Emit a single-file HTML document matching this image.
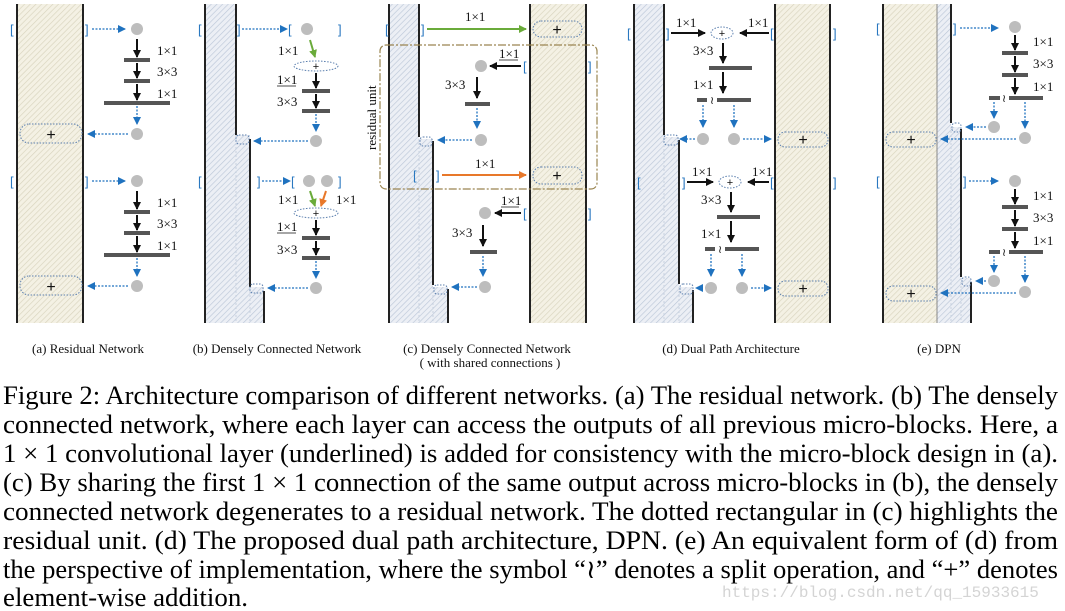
<!DOCTYPE html>
<html><head><meta charset="utf-8"><style>
html,body{margin:0;padding:0;background:#fff;}
svg{display:block;}
.lab{font-family:"Liberation Serif",serif;font-size:13px;fill:#111;}
.cap{font-family:"Liberation Serif",serif;font-size:13px;fill:#111;}
.txt{font-family:"Liberation Serif",serif;font-size:26px;fill:#000;}
.br{font-family:"Liberation Sans",sans-serif;font-size:13px;fill:#2a78c0;}
</style></head><body>
<svg width="1065" height="611" viewBox="0 0 1065 611" xmlns="http://www.w3.org/2000/svg">
<defs>
<pattern id="hb" width="4" height="4" patternUnits="userSpaceOnUse" patternTransform="rotate(45)"><rect width="4" height="4" fill="#f4f1e4"/><line x1="0" y1="0" x2="0" y2="4" stroke="#d8d3bd" stroke-width="1.3"/></pattern>
<pattern id="hl" width="4" height="4" patternUnits="userSpaceOnUse" patternTransform="rotate(45)"><rect width="4" height="4" fill="#eceff5"/><line x1="0" y1="0" x2="0" y2="4" stroke="#bcc7d8" stroke-width="1.3"/></pattern>
<marker id="mk" markerWidth="8" markerHeight="8" refX="7" refY="4" orient="auto" markerUnits="userSpaceOnUse"><path d="M0,0 L8,4 L0,8 Z" fill="#111"/></marker>
<marker id="mb" markerWidth="8" markerHeight="8" refX="7" refY="4" orient="auto" markerUnits="userSpaceOnUse"><path d="M0,0 L8,4 L0,8 Z" fill="#1f72bf"/></marker>
<marker id="mg" markerWidth="8" markerHeight="8" refX="7" refY="4" orient="auto" markerUnits="userSpaceOnUse"><path d="M0,0 L8,4 L0,8 Z" fill="#6aab3a"/></marker>
<marker id="mo" markerWidth="8" markerHeight="8" refX="7" refY="4" orient="auto" markerUnits="userSpaceOnUse"><path d="M0,0 L8,4 L0,8 Z" fill="#e8782a"/></marker>
<style>
.k{stroke:#111;stroke-width:2;marker-end:url(#mk);fill:none}
.b{stroke:#1f72bf;stroke-width:1.3;stroke-dasharray:2 1.5;marker-end:url(#mb);fill:none}
.bar{stroke:#555;stroke-width:4}
.c{fill:#bdbdbd}
.pl{fill:none;stroke:#5b7fae;stroke-width:1;stroke-dasharray:1.5 1.5}
.ln{stroke:#222;stroke-width:2;fill:none}
.pt{font-family:"Liberation Sans",sans-serif;font-size:16px;fill:#111;text-anchor:middle}
.ps{font-family:"Liberation Sans",sans-serif;font-size:11px;fill:#111;text-anchor:middle}
</style>
</defs>

<!-- (a) -->
<rect x="17" y="4" width="66" height="319" fill="url(#hb)"/>
<line class="ln" x1="17" y1="4" x2="17" y2="323"/><line class="ln" x1="83" y1="4" x2="83" y2="323"/>
<g id="ra">
<text class="br" x="10" y="34">[</text><text class="br" x="85" y="34">]</text>
<line class="b" x1="92" y1="29" x2="125" y2="29"/>
<circle class="c" cx="137" cy="29" r="6"/>
<line class="k" x1="137" y1="39" x2="137" y2="57"/><line class="bar" x1="124" y1="60" x2="150" y2="60"/><text class="lab" x="157" y="55">1×1</text>
<line class="k" x1="137" y1="63" x2="137" y2="78"/><line class="bar" x1="124" y1="81" x2="150" y2="81"/><text class="lab" x="157" y="76">3×3</text>
<line class="k" x1="137" y1="84" x2="137" y2="100"/><line class="bar" x1="104" y1="103" x2="170" y2="103"/><text class="lab" x="157" y="98">1×1</text>
<line class="b" x1="137" y1="106" x2="137" y2="124"/>
<circle class="c" cx="137" cy="134" r="6"/>
<line class="b" x1="128" y1="134" x2="88" y2="134"/>
<rect class="pl" x="20" y="124" width="62" height="19" rx="9"/><text class="pt" x="51" y="140">+</text>
</g>
<use href="#ra" transform="translate(0,152)"/>

<!-- (b) -->
<path d="M205,4 H236 V135 H250 V287 H264 V323 H205 Z" fill="url(#hl)"/>
<line x1="236" y1="135" x2="236" y2="323" stroke="#c8d2e0" stroke-dasharray="2 2"/>
<line x1="250" y1="287" x2="250" y2="323" stroke="#c8d2e0" stroke-dasharray="2 2"/>
<line class="ln" x1="205" y1="4" x2="205" y2="323"/>
<path class="ln" d="M236,4 V135 M250,139 V287 M264,291 V323"/>
<rect class="pl" x="236" y="135" width="13" height="9" rx="3"/>
<rect class="pl" x="250" y="284" width="13" height="9" rx="3"/>
<text class="br" x="198" y="34">[</text><text class="br" x="237" y="34">]</text>
<line class="b" x1="242" y1="29" x2="287" y2="29"/>
<text class="br" x="288" y="34">[</text><text class="br" x="338" y="34">]</text>
<circle class="c" cx="307" cy="29" r="6"/>
<line x1="310" y1="40" x2="315" y2="57" stroke="#6aab3a" stroke-width="2" marker-end="url(#mg)"/>
<text class="lab" x="278" y="55">1×1</text>
<ellipse class="pl" cx="316" cy="66" rx="22" ry="5"/><text class="ps" x="316" y="70">+</text>
<text class="lab" x="277" y="84">1×1</text><line x1="277" y1="86" x2="296" y2="86" stroke="#111" stroke-width="0.8"/>
<line class="k" x1="316" y1="73" x2="316" y2="88"/><line class="bar" x1="302" y1="91" x2="330" y2="91"/>
<text class="lab" x="277" y="106">3×3</text>
<line class="k" x1="316" y1="94" x2="316" y2="108"/><line class="bar" x1="302" y1="111" x2="330" y2="111"/>
<line class="b" x1="316" y1="114" x2="316" y2="131"/>
<circle class="c" cx="316" cy="141" r="6"/>
<line class="b" x1="308" y1="141" x2="254" y2="141"/>
<text class="br" x="198" y="186">[</text><text class="br" x="257" y="186">]</text>
<line class="b" x1="262" y1="181" x2="290" y2="181"/>
<text class="br" x="291" y="186">[</text><text class="br" x="338" y="186">]</text>
<circle class="c" cx="309" cy="181" r="6"/><circle class="c" cx="327" cy="181" r="6"/>
<line x1="310" y1="191" x2="315" y2="206" stroke="#6aab3a" stroke-width="2" marker-end="url(#mg)"/>
<line x1="326" y1="191" x2="321" y2="206" stroke="#e8782a" stroke-width="2" marker-end="url(#mo)"/>
<text class="lab" x="278" y="204">1×1</text><text class="lab" x="336" y="204">1×1</text>
<ellipse class="pl" cx="316" cy="213" rx="22" ry="5"/><text class="ps" x="316" y="217">+</text>
<text class="lab" x="277" y="231">1×1</text><line x1="277" y1="233" x2="296" y2="233" stroke="#111" stroke-width="0.8"/>
<line class="k" x1="316" y1="220" x2="316" y2="235"/><line class="bar" x1="302" y1="238" x2="330" y2="238"/>
<text class="lab" x="277" y="254">3×3</text>
<line class="k" x1="316" y1="241" x2="316" y2="255"/><line class="bar" x1="302" y1="258" x2="330" y2="258"/>
<line class="b" x1="316" y1="261" x2="316" y2="278"/>
<circle class="c" cx="316" cy="288" r="6"/>
<line class="b" x1="308" y1="288" x2="268" y2="288"/>

<!-- (c) -->
<path d="M389,4 H419 V139 H433 V287 H448 V323 H389 Z" fill="url(#hl)"/>
<line x1="419" y1="139" x2="419" y2="323" stroke="#c8d2e0" stroke-dasharray="2 2"/>
<line x1="433" y1="287" x2="433" y2="323" stroke="#c8d2e0" stroke-dasharray="2 2"/>
<line class="ln" x1="389" y1="4" x2="389" y2="323"/>
<path class="ln" d="M419,4 V137 M433,141 V285 M448,289 V323"/>
<rect class="pl" x="420" y="137" width="12" height="9" rx="3"/>
<rect class="pl" x="434" y="285" width="13" height="9" rx="3"/>
<rect x="530" y="4" width="56" height="319" fill="url(#hb)"/>
<line class="ln" x1="530" y1="4" x2="530" y2="323"/><line class="ln" x1="586" y1="4" x2="586" y2="323"/>
<text class="br" x="385" y="34">[</text><text class="br" x="421" y="34">]</text>
<line x1="427" y1="29" x2="526" y2="29" stroke="#6aab3a" stroke-width="2" marker-end="url(#mg)"/>
<text class="lab" x="465" y="21">1×1</text>
<rect class="pl" x="533" y="21" width="49" height="16" rx="8"/><text class="pt" x="557" y="35">+</text>
<rect x="380" y="45" width="217" height="144" rx="6" fill="none" stroke="#9a8550" stroke-width="1.2" stroke-dasharray="8 2 2 2"/>
<text class="lab" transform="translate(376,150) rotate(-90)" style="font-size:13px">residual unit</text>
<text class="br" x="523" y="71">[</text><text class="br" x="588" y="71">]</text>
<line class="k" x1="521" y1="66" x2="490" y2="66"/>
<text class="lab" x="499" y="58">1×1</text><line x1="499" y1="60" x2="518" y2="60" stroke="#111" stroke-width="0.8"/>
<circle class="c" cx="481" cy="66" r="6"/>
<text class="lab" x="445" y="89">3×3</text>
<line class="k" x1="477" y1="77" x2="477" y2="98"/><line class="bar" x1="465" y1="104" x2="490" y2="104"/>
<line class="b" x1="477" y1="108" x2="477" y2="128"/>
<circle class="c" cx="481" cy="140" r="6"/>
<line class="b" x1="472" y1="140" x2="438" y2="140"/>
<text class="br" x="413" y="180">[</text><text class="br" x="436" y="180">]</text>
<line x1="442" y1="175" x2="526" y2="175" stroke="#e8782a" stroke-width="2" marker-end="url(#mo)"/>
<text class="lab" x="475" y="168">1×1</text>
<rect class="pl" x="533" y="167" width="49" height="17" rx="8"/><text class="pt" x="557" y="181">+</text>
<text class="br" x="523" y="218">[</text><text class="br" x="588" y="218">]</text>
<line class="k" x1="521" y1="213" x2="495" y2="213"/>
<text class="lab" x="501" y="205">1×1</text><line x1="501" y1="207" x2="519" y2="207" stroke="#111" stroke-width="0.8"/>
<circle class="c" cx="485" cy="213" r="6"/>
<text class="lab" x="452" y="237">3×3</text>
<line class="k" x1="483" y1="225" x2="483" y2="246"/><line class="bar" x1="470" y1="252" x2="497" y2="252"/>
<line class="b" x1="483" y1="256" x2="483" y2="276"/>
<circle class="c" cx="485" cy="287" r="6"/>
<line class="b" x1="477" y1="287" x2="452" y2="287"/>

<!-- (d) -->
<path d="M634,4 H664 V137 H679 V287 H693 V323 H634 Z" fill="url(#hl)"/>
<line x1="664" y1="137" x2="664" y2="323" stroke="#c8d2e0" stroke-dasharray="2 2"/>
<line x1="679" y1="287" x2="679" y2="323" stroke="#c8d2e0" stroke-dasharray="2 2"/>
<line class="ln" x1="634" y1="4" x2="634" y2="323"/>
<path class="ln" d="M664,4 V135 M679,140 V284 M693,290 V323"/>
<rect class="pl" x="664" y="135" width="14" height="10" rx="3"/>
<rect class="pl" x="680" y="284" width="13" height="10" rx="3"/>
<rect x="775" y="4" width="55" height="319" fill="url(#hb)"/>
<line class="ln" x1="775" y1="4" x2="775" y2="323"/><line class="ln" x1="830" y1="4" x2="830" y2="323"/>
<g id="rd">
<text class="br" x="627" y="38">[</text><text class="br" x="666" y="38">]</text>
<line class="k" x1="671" y1="33" x2="705" y2="33"/><text class="lab" x="676" y="27">1×1</text>
<ellipse class="pl" cx="722" cy="33" rx="11" ry="6"/><text class="ps" x="722" y="37">+</text>
<line class="k" x1="769" y1="33" x2="740" y2="33"/><text class="lab" x="748" y="27">1×1</text>
<text class="br" x="770" y="38">[</text><text class="br" x="833" y="38">]</text>
<text class="lab" x="693" y="55">3×3</text>
<line class="k" x1="723" y1="43" x2="723" y2="63"/><line class="bar" x1="709" y1="68" x2="752" y2="68"/>
<text class="lab" x="693" y="89">1×1</text>
<line class="k" x1="723" y1="72" x2="723" y2="93"/>
<line class="bar" x1="697" y1="100" x2="707" y2="100"/><text class="ps" x="712" y="104">≀</text><line class="bar" x1="717" y1="100" x2="751" y2="100"/>
<line class="b" x1="703" y1="105" x2="703" y2="127"/><line class="b" x1="734" y1="105" x2="734" y2="127"/>
<circle class="c" cx="703" cy="139" r="6"/><circle class="c" cx="734" cy="139" r="6"/>
<line class="b" x1="695" y1="139" x2="680" y2="139"/>
<line class="b" x1="743" y1="139" x2="771" y2="139"/>
<rect class="pl" x="778" y="132" width="50" height="15" rx="7"/><text class="pt" x="803" y="145">+</text>
</g>
<g transform="translate(8,149)">
<text class="br" x="629" y="38">[</text><text class="br" x="674" y="38">]</text>
<line class="k" x1="679" y1="33" x2="705" y2="33"/><text class="lab" x="684" y="27">1×1</text>
<ellipse class="pl" cx="722" cy="33" rx="11" ry="6"/><text class="ps" x="722" y="37">+</text>
<line class="k" x1="761" y1="33" x2="740" y2="33"/><text class="lab" x="744" y="27">1×1</text>
<text class="br" x="762" y="38">[</text><text class="br" x="825" y="38">]</text>
<text class="lab" x="693" y="55">3×3</text>
<line class="k" x1="723" y1="43" x2="723" y2="63"/><line class="bar" x1="709" y1="68" x2="752" y2="68"/>
<text class="lab" x="693" y="89">1×1</text>
<line class="k" x1="723" y1="72" x2="723" y2="93"/>
<line class="bar" x1="697" y1="100" x2="707" y2="100"/><text class="ps" x="712" y="104">≀</text><line class="bar" x1="717" y1="100" x2="751" y2="100"/>
<line class="b" x1="703" y1="105" x2="703" y2="127"/><line class="b" x1="734" y1="105" x2="734" y2="127"/>
<circle class="c" cx="703" cy="139" r="6"/><circle class="c" cx="734" cy="139" r="6"/>
<line class="b" x1="695" y1="139" x2="688" y2="139"/>
<line class="b" x1="743" y1="139" x2="763" y2="139"/>
<rect class="pl" x="770" y="132" width="50" height="15" rx="7"/><text class="pt" x="795" y="145">+</text>
</g>

<!-- (e) -->
<rect x="883" y="4" width="54" height="319" fill="url(#hb)"/>
<path d="M937,4 H951 V127 H961 V278 H971 V323 H937 Z" fill="url(#hl)"/>
<line x1="951" y1="127" x2="951" y2="323" stroke="#c8d2e0" stroke-dasharray="2 2"/>
<line x1="961" y1="278" x2="961" y2="323" stroke="#c8d2e0" stroke-dasharray="2 2"/>
<line class="ln" x1="883" y1="4" x2="883" y2="323"/>
<line x1="937" y1="4" x2="937" y2="323" stroke="#888" stroke-width="1"/>
<path class="ln" d="M951,4 V123 M961,129 V277 M971,282 V323"/>
<rect class="pl" x="952" y="123" width="9" height="9" rx="3"/>
<rect class="pl" x="962" y="277" width="9" height="9" rx="3"/>
<g id="re">
<text class="br" x="876" y="33">[</text><text class="br" x="953" y="33">]</text>
<line class="b" x1="960" y1="28" x2="998" y2="28"/>
<circle class="c" cx="1015" cy="27" r="6"/>
<line class="k" x1="1015" y1="35" x2="1015" y2="50"/><line class="bar" x1="1002" y1="53" x2="1028" y2="53"/><text class="lab" x="1033" y="46">1×1</text>
<line class="k" x1="1015" y1="56" x2="1015" y2="72"/><line class="bar" x1="1002" y1="75" x2="1028" y2="75"/><text class="lab" x="1033" y="68">3×3</text>
<line class="k" x1="1015" y1="78" x2="1015" y2="94"/><text class="lab" x="1033" y="91">1×1</text>
<line class="bar" x1="989" y1="98" x2="1000" y2="98"/><text class="ps" x="1004" y="102">≀</text><line class="bar" x1="1009" y1="98" x2="1043" y2="98"/>
<line class="b" x1="994" y1="102" x2="994" y2="118"/><line class="b" x1="1025" y1="102" x2="1025" y2="128"/>
<circle class="c" cx="994" cy="127" r="6"/><circle class="c" cx="1025" cy="138" r="6"/>
<line class="b" x1="986" y1="127" x2="966" y2="127"/>
<line class="b" x1="1016" y1="139" x2="941" y2="139"/>
<rect class="pl" x="886" y="132" width="50" height="15" rx="7"/><text class="pt" x="911" y="145">+</text>
</g>
<g transform="translate(0,154)">
<text class="br" x="876" y="32">[</text><text class="br" x="963" y="32">]</text>
<line class="b" x1="969" y1="27" x2="998" y2="27"/>
<circle class="c" cx="1015" cy="27" r="6"/>
<line class="k" x1="1015" y1="35" x2="1015" y2="50"/><line class="bar" x1="1002" y1="53" x2="1028" y2="53"/><text class="lab" x="1033" y="46">1×1</text>
<line class="k" x1="1015" y1="56" x2="1015" y2="72"/><line class="bar" x1="1002" y1="75" x2="1028" y2="75"/><text class="lab" x="1033" y="68">3×3</text>
<line class="k" x1="1015" y1="78" x2="1015" y2="94"/><text class="lab" x="1033" y="91">1×1</text>
<line class="bar" x1="989" y1="98" x2="1000" y2="98"/><text class="ps" x="1004" y="102">≀</text><line class="bar" x1="1009" y1="98" x2="1043" y2="98"/>
<line class="b" x1="994" y1="102" x2="994" y2="118"/><line class="b" x1="1025" y1="102" x2="1025" y2="128"/>
<circle class="c" cx="994" cy="127" r="6"/><circle class="c" cx="1025" cy="138" r="6"/>
<line class="b" x1="986" y1="127" x2="976" y2="127"/>
<line class="b" x1="1016" y1="139" x2="941" y2="139"/>
<rect class="pl" x="886" y="132" width="50" height="15" rx="7"/><text class="pt" x="911" y="145">+</text>
</g>

<!-- sub captions -->
<text class="cap" x="88" y="353" text-anchor="middle">(a) Residual Network</text>
<text class="cap" x="277" y="353" text-anchor="middle">(b) Densely Connected Network</text>
<text class="cap" x="487" y="353" text-anchor="middle">(c) Densely Connected Network</text>
<text class="cap" x="490" y="367" text-anchor="middle">( with shared connections )</text>
<text class="cap" x="731" y="353" text-anchor="middle">(d) Dual Path Architecture</text>
<text class="cap" x="939" y="353" text-anchor="middle">(e) DPN</text>

<!-- caption -->
<g class="txt">
<text x="3" y="404" textLength="1055" lengthAdjust="spacingAndGlyphs">Figure 2: Architecture comparison of different networks. (a) The residual network. (b) The densely</text>
<text x="3" y="433" textLength="1055" lengthAdjust="spacingAndGlyphs">connected network, where each layer can access the outputs of all previous micro-blocks. Here, a</text>
<text x="3" y="462" textLength="1055" lengthAdjust="spacingAndGlyphs">1 × 1 convolutional layer (underlined) is added for consistency with the micro-block design in (a).</text>
<text x="3" y="491" textLength="1055" lengthAdjust="spacingAndGlyphs">(c) By sharing the first 1 × 1 connection of the same output across micro-blocks in (b), the densely</text>
<text x="3" y="520" textLength="1055" lengthAdjust="spacingAndGlyphs">connected network degenerates to a residual network. The dotted rectangular in (c) highlights the</text>
<text x="3" y="549" textLength="1055" lengthAdjust="spacingAndGlyphs">residual unit. (d) The proposed dual path architecture, DPN. (e) An equivalent form of (d) from</text>
<text x="3" y="578" textLength="1055" lengthAdjust="spacingAndGlyphs">the perspective of implementation, where the symbol “≀” denotes a split operation, and “+” denotes</text>
<text x="3" y="606" textLength="245" lengthAdjust="spacingAndGlyphs">element-wise addition.</text>
</g>
<text x="722" y="597" style="font-family:'Liberation Mono',monospace;font-size:16px;fill:#d4d4d4">https://blog.csdn.net/qq_15933615</text>
</svg>
</body></html>
